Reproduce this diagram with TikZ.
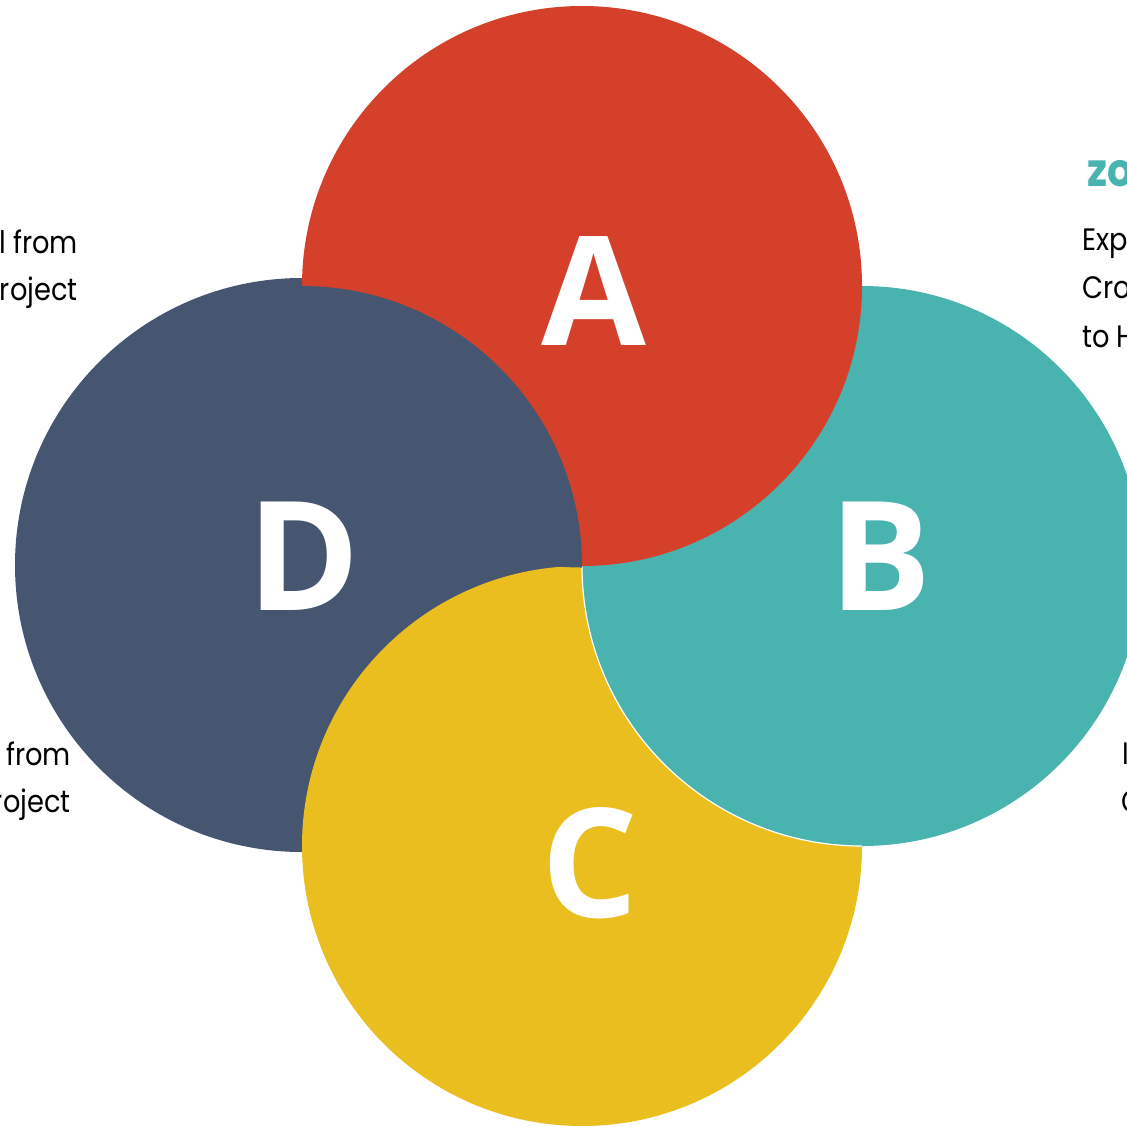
\documentclass[tikz,border=0pt]{standalone}
\usepackage{fontspec}
\setmainfont{Poppins}
\newfontfamily\bodyfont[FakeStretch=0.88]{Poppins}
\newfontfamily\letterfont{Open Sans}
\definecolor{cred}{HTML}{D5402A}
\definecolor{cteal}{HTML}{49B3B0}
\definecolor{cyellow}{HTML}{EABE1E}
\definecolor{cdark}{HTML}{465670}
\tikzset{
  letter/.style={text=white, inner sep=0pt, anchor=base, font=\letterfont\bfseries\fontsize{152}{152}\selectfont},
  bodytext/.style={text=black, inner sep=0pt, font=\bodyfont\fontsize{31}{31}\selectfont},
  headtext/.style={text=cteal, inner sep=0pt, font=\bodyfont\bfseries\fontsize{46}{46}\selectfont},
}
\begin{document}
\begin{tikzpicture}[x=1pt,y=-1pt]
\clip (0,0) rectangle (1127,1125);
\fill[white] (0,0) rectangle (1127,1125);
% circle D (slightly larger outer part, kept away from B)
\begin{scope}
  \clip (0,0) rectangle (572,1125);
  \fill[cdark] (302,565) circle[radius=287];
\end{scope}
\fill[cdark] (302,566) circle[radius=280];
% circle C
\fill[cyellow] (582,846) circle[radius=280];
% circle B with thin white edge over C
\fill[cteal] (862,566) circle[radius=280];
\begin{scope}
  \clip (582,846) circle[radius=280];
  \draw[white, line width=1.2pt] (862,566) circle[radius=280];
\end{scope}
% circle A
\fill[cred] (582,286) circle[radius=280];
% D over A
\begin{scope}
  \clip (582,286) circle[radius=281.5];
  \fill[cdark] (302,566) circle[radius=280];
\end{scope}
% letters
\node[letter] (la) at (594,345) {A};
\node[letter] (lb) at (881,610) {B};
\node[letter] (lc) at (590,917) {C};
\node[letter] (ld) at (304,610) {D};
% side texts
\node[bodytext, anchor=base east] (t1) at (78,253) {l from};
\node[bodytext, anchor=base east] (t2) at (78,300) {roject};
\node[bodytext, anchor=base east] (t3) at (71,765) {from};
\node[bodytext, anchor=base east] (t4) at (71,812) {roject};
\node[headtext, anchor=base west] (h1) at (1087,186) {zo};
\node[bodytext, anchor=base west] (t5) at (1082,250) {Exp};
\node[bodytext, anchor=base west] (t6) at (1082,298) {Cro};
\node[bodytext, anchor=base west] (t7) at (1082,347) {to H};
\node[bodytext, anchor=base west] (t8) at (1122,764) {I};
\node[bodytext, anchor=base west] (t9) at (1121,812) {C};
\end{tikzpicture}
\end{document}
